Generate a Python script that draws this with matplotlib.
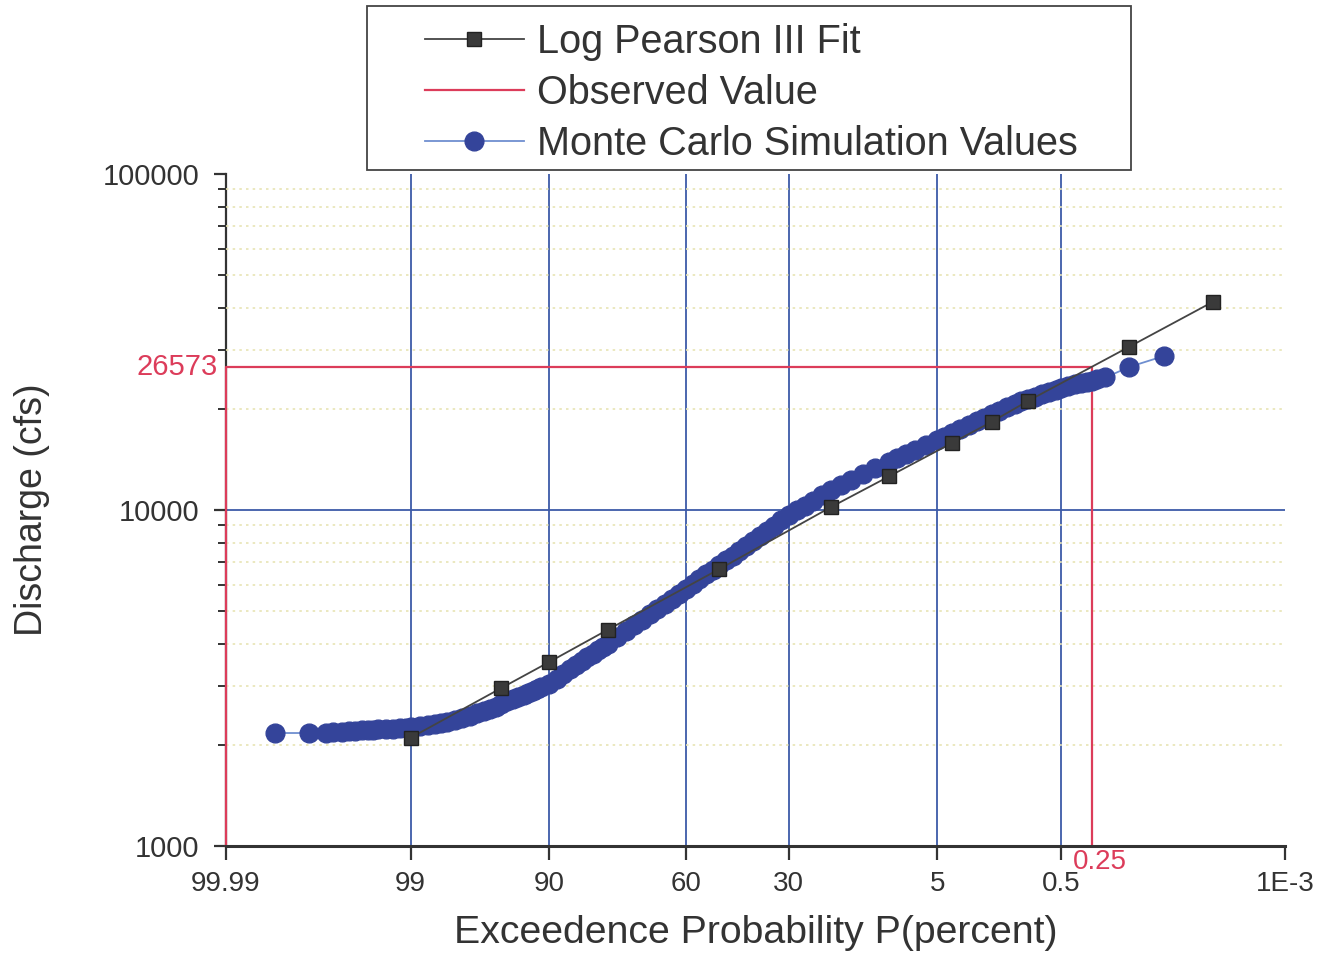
import numpy as np
import matplotlib
matplotlib.use("Agg")
import matplotlib.pyplot as plt
from matplotlib.patches import Rectangle
from statistics import NormalDist

# ---------------- data ----------------
x_ticks = [99.99, 99, 90, 60, 30, 5, 0.5, 0.001]
x_tick_labels = ["99.99", "99", "90", "60", "30", "5", "0.5", "1E-3"]
y_ticks = [1000, 10000, 100000]
y_tick_labels = ["1000", "10000", "100000"]

fit_p = [99, 95, 90, 80, 50, 20, 10, 4, 2, 1, 0.1, 0.01]
fit_q = [2100, 2950, 3530, 4400, 6670, 10200, 12600, 15800, 18300, 21100, 30600, 41600]

mc_p = [99.96, 99.9, 99.85, 99.82, 99.78, 99.74, 99.7, 99.65, 99.6, 99.55, 99.5,
        99.4, 99.3, 99.2, 99.1, 99.0, 98.8, 98.6, 98.4, 98.2, 98.0, 97.7, 97.4,
        97.0, 96.6, 96.2, 95.8, 95.4, 95.0, 94.5, 94.0, 93.5, 93.0, 92.5, 92.0,
        91.5, 91.0, 90.0, 89.0, 88.0, 87.0, 86.0, 85.0, 84.0, 83.0, 82.0, 81.0,
        80.0, 78.0, 76.0, 74.0, 72.0, 70.0, 68.0, 66.0, 64.0, 62.0, 60.0, 58.0,
        56.0, 54.0, 52.0, 50.0, 48.0, 46.0, 44.0, 42.0, 40.0, 38.0, 36.0, 34.0,
        32.0, 30.0, 28.0, 26.0, 24.0, 22.0, 20.0, 18.0, 16.0, 14.0, 12.0, 10.0,
        9.0, 8.0, 7.0, 6.0, 5.0, 4.5, 4.0, 3.5, 3.0, 2.6, 2.3, 2.0, 1.75, 1.5,
        1.3, 1.15, 1.0, 0.87, 0.75, 0.65, 0.56, 0.5, 0.43, 0.37, 0.32, 0.28,
        0.25, 0.22, 0.18, 0.1, 0.04]
mc_q = [2169, 2169, 2176, 2181, 2188, 2194, 2199, 2208, 2214, 2219, 2222,
        2229, 2237, 2245, 2252, 2260, 2280, 2294, 2312, 2328, 2339, 2369, 2399,
        2437, 2481, 2520, 2557, 2599, 2646, 2693, 2738, 2778, 2814, 2853, 2890,
        2926, 2963, 3035, 3147, 3250, 3352, 3447, 3553, 3644, 3738, 3831, 3913,
        3992, 4174, 4358, 4538, 4716, 4893, 5078, 5265, 5448, 5635, 5819, 6018,
        6224, 6432, 6638, 6860, 7085, 7317, 7556, 7804, 8087, 8357, 8643, 8956,
        9306, 9663, 9980, 10313, 10666, 11053, 11469, 11861, 12299, 12773, 13290,
        13895, 14242, 14628, 15075, 15579, 16155, 16524, 16925, 17384, 17904,
        18402, 18823, 19307, 19749, 20256, 20662, 21062, 21397, 21752, 22112,
        22510, 22821, 23073, 23359, 23633, 23877, 24041, 24206, 24540, 24794,
        26650, 28730]

obs_q = 26573
obs_p = 0.25
p_left, p_right = 99.99, 0.001
q_low, q_high = 1000, 100000

# ---------------- probability scale (normal quantile) ----------------
_nd = NormalDist()


def _fwd(p):
    p = np.clip(np.asarray(p, dtype=float), 1e-7, 100 - 1e-7)
    return np.vectorize(lambda v: _nd.inv_cdf(v / 100.0), otypes=[float])(p)


def _inv(z):
    z = np.asarray(z, dtype=float)
    return np.vectorize(lambda v: 100.0 * _nd.cdf(v), otypes=[float])(z)


# ---------------- style ----------------
plt.rcParams["font.family"] = ["Liberation Sans", "DejaVu Sans"]
GRID_BLUE = "#3d5aa8"
RED = "#dc3c5a"
DOT_BLUE = "#34449a"
LINE_BLUE = "#6f8fd0"
TXT = "#333333"

fig = plt.figure(figsize=(13.21, 9.57), dpi=100)
ax = fig.add_axes([226 / 1321, 1 - 846 / 957, (1285 - 226) / 1321, (846 - 174) / 957])

ax.set_xscale("function", functions=(_fwd, _inv))
ax.set_yscale("log")
ax.set_xlim(p_left, p_right)
ax.set_ylim(q_low, q_high)

# grid
for p in x_ticks[1:-1]:
    ax.axvline(p, color=GRID_BLUE, lw=1.3, zorder=1)
ax.axhline(10000, color=GRID_BLUE, lw=1.3, zorder=1)
ax.yaxis.grid(True, which="minor", color="#e8e4b4", lw=1.2, ls=(0, (1.5, 2.5)), zorder=0)

# observed value
ax.plot([p_left, p_left, obs_p, obs_p], [q_low, obs_q, obs_q, q_low],
        color=RED, lw=1.6, zorder=2, clip_on=False, label="Observed Value")

# monte carlo
ax.plot(mc_p, mc_q, color=LINE_BLUE, lw=1.3, marker="o", ms=13.5,
        mfc=DOT_BLUE, mec=DOT_BLUE, zorder=3, label="Monte Carlo Simulation Values")

# fit
ax.plot(fit_p, fit_q, color="#444444", lw=1.3, marker="s", ms=10.5,
        mfc="#3a3a3a", mec="#222222", zorder=4, label="Log Pearson III Fit")

# axes cosmetics
for s in ("top", "right"):
    ax.spines[s].set_visible(False)
ax.spines["left"].set_color("#333333")
ax.spines["left"].set_linewidth(1.6)
ax.spines["left"].set_zorder(1.5)
ax.spines["bottom"].set_color("#333333")
ax.spines["bottom"].set_linewidth(2.2)

ax.set_xticks(x_ticks)
ax.set_xticklabels(x_tick_labels)
ax.xaxis.set_minor_locator(matplotlib.ticker.NullLocator())
ax.set_yticks(y_ticks)
ax.set_yticklabels(y_tick_labels)
ax.tick_params(axis="x", which="major", length=10, width=1.6, color="#333333",
               labelsize=20, labelcolor=TXT, pad=8)
ax.tick_params(axis="y", which="major", length=9, width=1.6, color="#333333",
               labelsize=21, labelcolor=TXT, pad=10)
ax.tick_params(axis="y", which="minor", length=6, width=1.4, color="#333333")
ax.yaxis.set_minor_formatter(matplotlib.ticker.NullFormatter())

# observed annotations
ax.text(-0.008, obs_q, str(obs_q), color=RED, fontsize=21, ha="right", va="center",
        transform=matplotlib.transforms.blended_transform_factory(ax.transAxes, ax.transData))
ax.annotate(str(obs_p), xy=(obs_p, q_low), xytext=(6, -2), textcoords="offset points",
            color=RED, fontsize=20, ha="center", va="top", annotation_clip=False)

ax.set_xlabel("Exceedence Probability P(percent)", fontsize=28.3, color=TXT, labelpad=13)
ax.set_ylabel("Discharge (cfs)", fontsize=27, color=TXT, labelpad=38)

# legend
h, l = ax.get_legend_handles_labels()
order = [2, 0, 1]
leg = fig.legend([h[i] for i in order], [l[i] for i in order], loc="upper left",
                 bbox_to_anchor=(425 / 1321, 1 - 23 / 957), frameon=False,
                 fontsize=28.5, handlelength=2.5, handletextpad=0.33, labelspacing=0.33,
                 borderpad=0, borderaxespad=0, numpoints=1)
for t in leg.get_texts():
    t.set_color(TXT)
fig.add_artist(Rectangle((367 / 1321, 1 - 170 / 957), 764 / 1321, 164 / 957,
                         transform=fig.transFigure, fill=False, ec="#444444", lw=1.3))

fig.savefig("out.png", dpi=100)
